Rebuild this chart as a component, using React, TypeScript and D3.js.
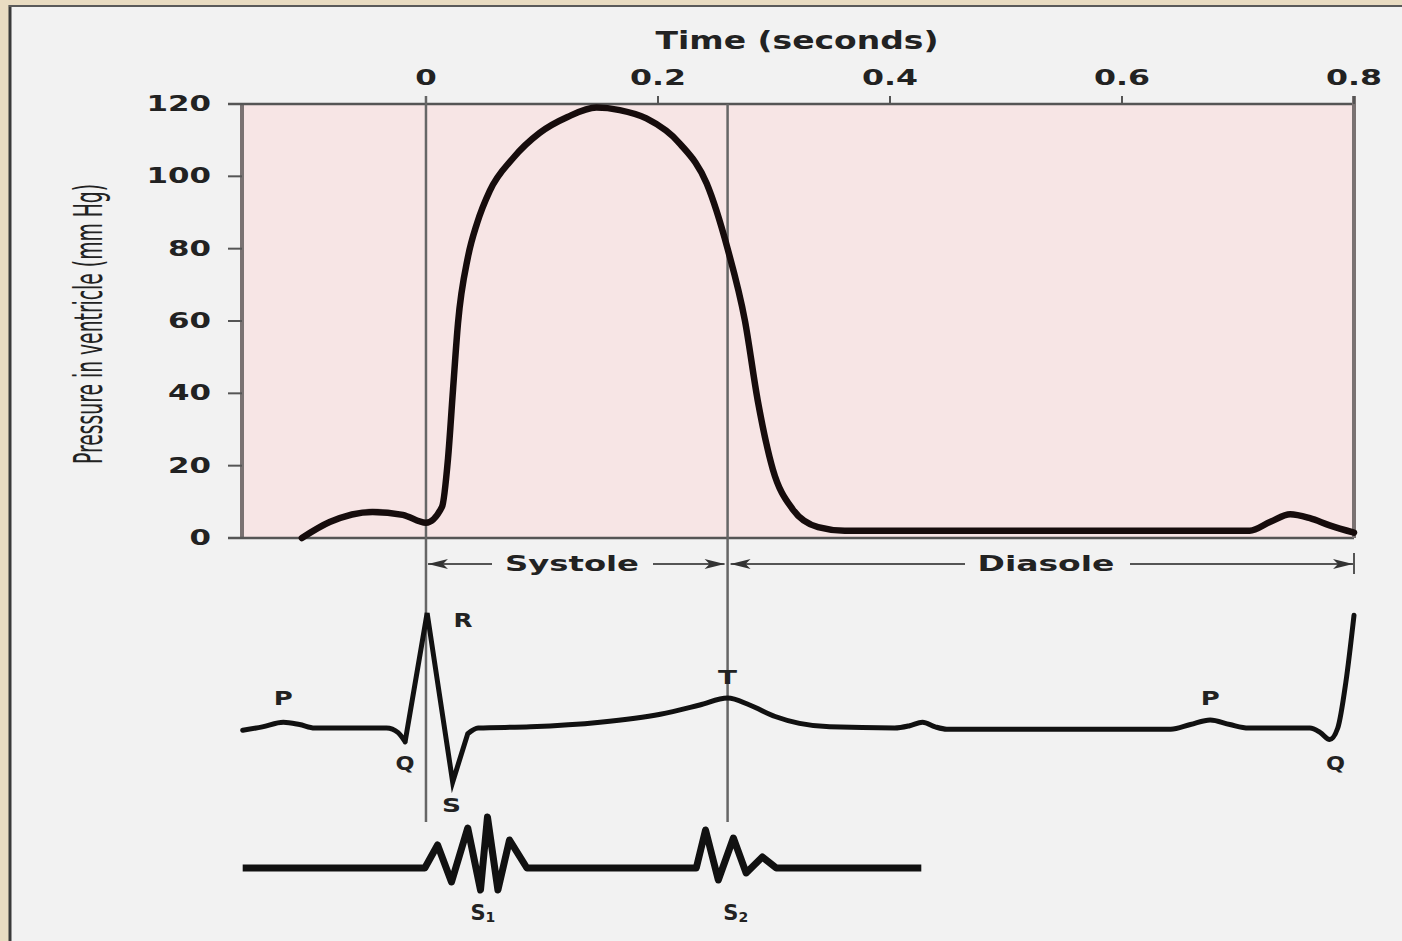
import { useEffect, useRef } from "react";
import * as d3 from "d3";

// axis ticks
const timeTicks = [0, 0.2, 0.4, 0.6, 0.8];
const pressureTicks = [0, 20, 40, 60, 80, 100, 120];

// ventricular pressure (mm Hg)
const pressureTime = [-0.107, -0.083, -0.046, -0.02, 0, 0.0138, 0.019, 0.0233, 0.0276, 0.0362, 0.044, 0.055, 0.075, 0.098, 0.122, 0.147, 0.167, 0.19, 0.219, 0.242, 0.26, 0.275, 0.286, 0.299, 0.316, 0.338, 0.361, 0.71, 0.728, 0.745, 0.762, 0.779, 0.8];
const pressureValues = [0, 4.4, 7.2, 6.4, 4.2, 8.6, 22, 41, 59.4, 77.7, 87, 96, 105, 112, 116.4, 119, 118.3, 116, 109, 98, 80, 60, 38, 19, 8, 3, 2, 2, 4.5, 6.6, 5.5, 3.5, 1.5];

// ECG trace, arbitrary units (R peak = 1)
const ecgTime = [-0.158, -0.141, -0.123, -0.109, -0.096, -0.034, -0.024, -0.018, 0.001, 0.023, 0.036, 0.045, 0.09, 0.15, 0.202, 0.236, 0.26, 0.279, 0.301, 0.322, 0.348, 0.404, 0.417, 0.428, 0.439, 0.449, 0.642, 0.659, 0.676, 0.693, 0.709, 0.762, 0.771, 0.779, 0.786, 0.793, 0.8];
const ecgValues = [-0.02, 0.01, 0.05, 0.03, 0, 0, -0.04, -0.12, 1.0, -0.47, -0.05, 0, 0.01, 0.05, 0.12, 0.2, 0.26, 0.2, 0.1, 0.04, 0.01, 0, 0.02, 0.05, 0.01, -0.01, -0.01, 0.03, 0.07, 0.03, 0, 0, -0.04, -0.1, 0.0, 0.4, 0.98];

// heart sounds (phonocardiogram), arbitrary units
const soundTime = [-0.158, -0.001, 0.01, 0.022, 0.036, 0.047, 0.053, 0.062, 0.072, 0.087, 0.233, 0.241, 0.252, 0.265, 0.276, 0.29, 0.302, 0.427];
const soundValues = [0, 0, 0.92, -0.56, 1.6, -0.88, 2.04, -0.88, 1.12, 0, 0, 1.52, -0.48, 1.2, -0.2, 0.44, 0, 0];

const ecgLabels = [
  { text: "P", t: -0.123, v: 0.26 },
  { text: "R", t: 0.032, v: 0.94 },
  { text: "Q", t: -0.018, v: -0.3 },
  { text: "S", t: 0.022, v: -0.67 },
  { text: "T", t: 0.26, v: 0.44 },
  { text: "P", t: 0.676, v: 0.26 },
  { text: "Q", t: 0.784, v: -0.3 },
];
const soundLabels = [
  { text: "S", sub: "1", t: 0.049 },
  { text: "S", sub: "2", t: 0.267 },
];

const systoleEnd = 0.26;
const tMin = -0.1586;
// span of the ECG drawn with straight strokes (QRS spike)
const sharpSpan = [-0.018, 0.036];

type Pt = [number, number];

export default function App() {
  const ref = useRef<SVGSVGElement>(null);

  useEffect(() => {
    const svg = d3.select(ref.current);
    svg.selectAll("*").remove();

    const W = 1402, H = 941;
    const font = "'DejaVu Sans', Verdana, sans-serif";
    const ink = "#222";

    // frame
    svg.append("rect").attr("width", W).attr("height", H).attr("fill", "#e9dcc2");
    svg.append("rect").attr("x", 9).attr("y", 5).attr("width", W - 9).attr("height", H - 5).attr("fill", "#f2f2f2");
    svg.append("line").attr("x1", 10).attr("x2", 10).attr("y1", 5).attr("y2", H).attr("stroke", "#3a3a3a").attr("stroke-width", 3);
    svg.append("line").attr("x1", 9).attr("x2", W).attr("y1", 6).attr("y2", 6).attr("stroke", "#5a5a5a").attr("stroke-width", 2);

    const x = d3.scaleLinear().domain([tMin, 0.8]).range([242, 1354]);
    const y = d3.scaleLinear().domain([0, 120]).range([538, 104]);
    const ecgY = d3.scaleLinear().domain([0, 1]).range([728, 613]);
    const soundY = d3.scaleLinear().domain([-1, 2]).range([893, 818]);

    // plot background
    svg.append("rect")
      .attr("x", x(tMin)).attr("y", y(120))
      .attr("width", x(0.8) - x(tMin)).attr("height", y(0) - y(120))
      .attr("fill", "#f7e5e5");

    // y axis
    const yAxis = svg.append("g").attr("transform", `translate(${x(tMin)},0)`);
    yAxis.append("line").attr("y1", y(0)).attr("y2", y(120)).attr("stroke", "#7a7272").attr("stroke-width", 4);
    pressureTicks.forEach(v => {
      yAxis.append("line").attr("x1", -14).attr("x2", 0).attr("y1", y(v)).attr("y2", y(v)).attr("stroke", "#555").attr("stroke-width", 2);
      const s = String(v);
      yAxis.append("text")
        .attr("x", -31).attr("y", y(v))
        .attr("text-anchor", "end").attr("dominant-baseline", "central")
        .attr("font-family", font).attr("font-weight", "bold").attr("font-size", 21)
        .attr("textLength", s.length * 21.5).attr("lengthAdjust", "spacingAndGlyphs")
        .attr("fill", ink).text(s);
    });

    // top & bottom frame lines
    svg.append("line").attr("x1", 228).attr("x2", x(0.8)).attr("y1", y(120)).attr("y2", y(120)).attr("stroke", "#555").attr("stroke-width", 2.5);
    svg.append("line").attr("x1", 228).attr("x2", x(0.8)).attr("y1", y(0)).attr("y2", y(0)).attr("stroke", "#555").attr("stroke-width", 2.5);
    svg.append("line").attr("x1", x(0.8)).attr("x2", x(0.8)).attr("y1", 96).attr("y2", y(0)).attr("stroke", "#7a7272").attr("stroke-width", 4);

    // top time axis
    timeTicks.forEach(t => {
      svg.append("line").attr("x1", x(t)).attr("x2", x(t)).attr("y1", 96).attr("y2", y(120)).attr("stroke", "#555").attr("stroke-width", 2);
      const s = t === 0 ? "0" : String(t);
      const len = s.split("").reduce((a, c) => a + (c === "." ? 13 : 21.5), 0);
      svg.append("text")
        .attr("x", x(t)).attr("y", 78)
        .attr("text-anchor", "middle").attr("dominant-baseline", "central")
        .attr("font-family", font).attr("font-weight", "bold").attr("font-size", 21)
        .attr("textLength", len).attr("lengthAdjust", "spacingAndGlyphs")
        .attr("fill", ink).text(s);
    });
    svg.append("text")
      .attr("x", 797).attr("y", 40)
      .attr("text-anchor", "middle").attr("dominant-baseline", "central")
      .attr("font-family", font).attr("font-weight", "bold").attr("font-size", 25)
      .attr("textLength", 283).attr("lengthAdjust", "spacingAndGlyphs")
      .attr("fill", ink).text("Time (seconds)");

    // y label: condensed, squeezed to the reference length
    const yLabel = svg.append("text")
      .attr("text-anchor", "middle")
      .attr("font-family", "'Liberation Sans Narrow', 'DejaVu Sans Condensed', 'Noto Sans', sans-serif")
      .attr("font-size", 39)
      .attr("fill", ink).text("Pressure in ventricle (mm Hg)");
    const natural = (yLabel.node() as SVGTextElement).getComputedTextLength() || 280;
    yLabel.attr("transform", `translate(102,324) rotate(-90) scale(${280 / natural},1)`);

    // event markers
    svg.append("line").attr("x1", x(0)).attr("x2", x(0)).attr("y1", 96).attr("y2", 822).attr("stroke", "#666").attr("stroke-width", 2.5);
    svg.append("line").attr("x1", x(systoleEnd)).attr("x2", x(systoleEnd)).attr("y1", y(120)).attr("y2", 822).attr("stroke", "#666").attr("stroke-width", 2.5);

    // systole / diastole arrows
    svg.append("defs").append("marker").attr("id", "ah")
      .attr("viewBox", "0 0 10 5").attr("refX", 10).attr("refY", 2.5)
      .attr("markerWidth", 24).attr("markerHeight", 10).attr("markerUnits", "userSpaceOnUse").attr("orient", "auto")
      .append("path").attr("d", "M0,0 L10,2.5 L0,5 L2.5,2.5 Z").attr("fill", "#333");

    const ay = 564;
    const arrow = (a: number, b: number) =>
      svg.append("line").attr("x1", a).attr("x2", b).attr("y1", ay).attr("y2", ay)
        .attr("stroke", "#555").attr("stroke-width", 1.8).attr("marker-end", "url(#ah)");
    const phaseText = (cx: number, s: string, len: number) =>
      svg.append("text").attr("x", cx).attr("y", ay - 1)
        .attr("text-anchor", "middle").attr("dominant-baseline", "central")
        .attr("font-family", font).attr("font-weight", "bold").attr("font-size", 22)
        .attr("textLength", len).attr("lengthAdjust", "spacingAndGlyphs")
        .attr("fill", ink).text(s);

    arrow(492, x(0) + 2);
    arrow(653, x(systoleEnd) - 3);
    phaseText(572, "Systole", 134);
    arrow(965, x(systoleEnd) + 3);
    arrow(1130, x(0.8) - 1);
    phaseText(1046, "Diasole", 137);
    svg.append("line").attr("x1", x(0.8)).attr("x2", x(0.8)).attr("y1", 553).attr("y2", 574).attr("stroke", "#555").attr("stroke-width", 2);

    // pressure curve
    const pData: Pt[] = pressureTime.map((t, i) => [t, pressureValues[i]]);
    svg.append("path").datum(pData)
      .attr("d", d3.line<Pt>().x(d => x(d[0])).y(d => y(d[1])).curve(d3.curveMonotoneX))
      .attr("fill", "none").attr("stroke", "#160c0c").attr("stroke-width", 6.5).attr("stroke-linecap", "round");

    // ECG: smooth waves, straight QRS strokes
    const eData: Pt[] = ecgTime.map((t, i) => [t, ecgValues[i]]);
    const smooth = d3.line<Pt>().x(p => x(p[0])).y(p => ecgY(p[1])).curve(d3.curveMonotoneX);
    const sharp = d3.line<Pt>().x(p => x(p[0])).y(p => ecgY(p[1]));
    const before = eData.filter(p => p[0] <= sharpSpan[0]);
    const qrs = eData.filter(p => p[0] >= sharpSpan[0] && p[0] <= sharpSpan[1]);
    const after = eData.filter(p => p[0] >= sharpSpan[1]);
    const d = (smooth(before) ?? "") + (sharp(qrs) ?? "") + (smooth(after) ?? "");
    svg.append("path").attr("d", d)
      .attr("fill", "none").attr("stroke", "#111").attr("stroke-width", 5)
      .attr("stroke-linejoin", "miter").attr("stroke-miterlimit", 6).attr("stroke-linecap", "round");

    ecgLabels.forEach(l => {
      svg.append("text").attr("x", x(l.t)).attr("y", ecgY(l.v))
        .attr("text-anchor", "middle").attr("dominant-baseline", "central")
        .attr("font-family", font).attr("font-weight", "bold").attr("font-size", 20)
        .attr("textLength", 19).attr("lengthAdjust", "spacingAndGlyphs")
        .attr("fill", ink).text(l.text);
    });

    // heart sounds
    const sData: Pt[] = soundTime.map((t, i) => [t, soundValues[i]]);
    svg.append("path").datum(sData)
      .attr("d", d3.line<Pt>().x(p => x(p[0])).y(p => soundY(p[1])))
      .attr("fill", "none").attr("stroke", "#111").attr("stroke-width", 7).attr("stroke-linejoin", "round");

    soundLabels.forEach(l => {
      const tx = svg.append("text").attr("x", x(l.t)).attr("y", soundY(-1.8))
        .attr("text-anchor", "middle").attr("dominant-baseline", "central")
        .attr("font-family", font).attr("font-weight", "bold").attr("font-size", 21)
        .attr("fill", ink);
      tx.append("tspan").text(l.text);
      tx.append("tspan").attr("font-size", 14).attr("dy", 4).text(l.sub);
    });
  }, []);

  return (
    <svg ref={ref} width={1402} height={941} style={{ position: "absolute", left: 0, top: 0 }} />
  );
}
